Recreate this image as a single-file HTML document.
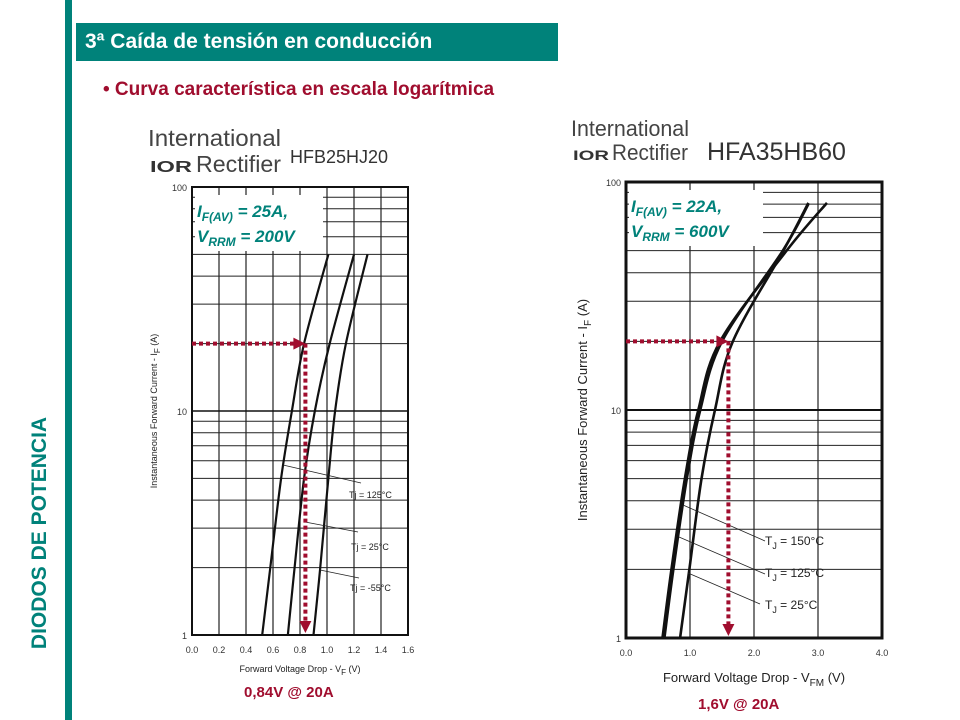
<!DOCTYPE html>
<html><head><meta charset="utf-8">
<style>
body{margin:0;width:960px;height:720px;background:#fff;overflow:hidden;position:relative;font-family:"Liberation Sans",sans-serif}
</style></head>
<body>
<div style="position:absolute;left:65px;top:0;width:7px;height:720px;background:#00827a"></div>
<div style="position:absolute;left:76px;top:23px;width:482px;height:38px;background:#00827a;color:#fff;font-weight:bold;font-size:21px;line-height:38px;padding-left:9px;box-sizing:border-box">3ª Caída de tensión en conducción</div>
<div style="position:absolute;left:103px;top:79px;color:#a00d2e;font-weight:bold;font-size:19px">• Curva característica en escala logarítmica</div>
<div style="position:absolute;left:40px;top:533px;transform:translate(-50%,-50%) rotate(-90deg);color:#00827a;font-weight:bold;font-size:21px;white-space:nowrap">DIODOS DE POTENCIA</div>
<div style="position:absolute;left:244px;top:684px;color:#a00d2e;font-weight:bold;font-size:15px">0,84V @ 20A</div>
<div style="position:absolute;left:698px;top:696px;color:#a00d2e;font-weight:bold;font-size:15px">1,6V @ 20A</div>

<svg width="960" height="720" style="position:absolute;left:0;top:0" font-family="Liberation Sans, sans-serif">
<g fill="#333">
<text x="148" y="146" font-size="23" textLength="133" lengthAdjust="spacingAndGlyphs" fill="#444">International</text>
<text x="150" y="172" font-size="16" font-weight="bold" textLength="42" lengthAdjust="spacingAndGlyphs">IOR</text>
<text x="196" y="172" font-size="23" fill="#444" textLength="85" lengthAdjust="spacingAndGlyphs">Rectifier</text>
<text x="290" y="163" font-size="18" fill="#333">HFB25HJ20</text>
</g>
<g fill="#333">
<text x="571" y="136" font-size="22" textLength="118" lengthAdjust="spacingAndGlyphs" fill="#444">International</text>
<text x="573" y="160" font-size="14" font-weight="bold" textLength="36" lengthAdjust="spacingAndGlyphs">IOR</text>
<text x="612" y="160" font-size="22" fill="#444" textLength="76" lengthAdjust="spacingAndGlyphs">Rectifier</text>
<text x="707" y="160" font-size="25">HFA35HB60</text>
</g>
<g id="left"></g>
<g id="right"></g>
</svg>

<script>
// Left chart data (HFB25HJ20)
const leftXTicks = ["0.0","0.2","0.4","0.6","0.8","1.0","1.2","1.4","1.6"];
const leftYTicks = [1,10,100];
const leftCurve125 = [[0.52,1],[0.58,2],[0.66,5],[0.74,10],[0.83,20],[1.01,50]];
const leftCurve25 = [[0.71,1],[0.76,2],[0.83,5],[0.91,10],[1.02,20],[1.2,50]];
const leftCurveM55 = [[0.90,1],[0.95,2],[1.01,5],[1.06,10],[1.14,20],[1.3,50]];
const leftMarker = [0.84,20];
// Right chart data (HFA35HB60)
const rightXTicks = ["0.0","1.0","2.0","3.0","4.0"];
const rightYTicks = [1,10,100];
const rightCurve150 = [[0.57,1],[0.71,2],[0.92,5],[1.13,10],[1.47,20],[2.51,50],[3.14,81]];
const rightCurve125 = [[0.60,1],[0.74,2],[0.95,5],[1.16,10],[1.5,20],[2.45,50],[2.85,80]];
const rightCurve25 = [[0.845,1],[0.99,2],[1.18,5],[1.39,10],[1.67,20],[2.46,50],[2.85,81]];
const rightMarker = [1.6,20];

const NS="http://www.w3.org/2000/svg";
function mk(parent,tag,attrs){const e=document.createElementNS(NS,tag);for(const k in attrs)e.setAttribute(k,attrs[k]);parent.appendChild(e);return e;}
function smooth(P){
  let d='M'+P[0][0]+','+P[0][1];
  for(let i=0;i<P.length-1;i++){
    const p0=P[Math.max(i-1,0)],p1=P[i],p2=P[i+1],p3=P[Math.min(i+2,P.length-1)];
    const c1=[p1[0]+(p2[0]-p0[0])/6,p1[1]+(p2[1]-p0[1])/6];
    const c2=[p2[0]-(p3[0]-p1[0])/6,p2[1]-(p3[1]-p1[1])/6];
    d+=' C'+c1[0]+','+c1[1]+' '+c2[0]+','+c2[1]+' '+p2[0]+','+p2[1];
  }
  return d;
}

function chart(g,o){
  const X=v=>o.x0+(v-o.xmin)/(o.xmax-o.xmin)*(o.x1-o.x0);
  const Y=v=>o.y1-Math.log10(v)/2*(o.y1-o.y0);
  const n=o.xTicks.length;
  o.xTicks.forEach((t,i)=>{
    const v=o.xmin+i*(o.xmax-o.xmin)/(n-1);
    const l=mk(g,'line',{x1:X(v),x2:X(v),y1:o.y0,y2:o.y1,stroke:'#222','stroke-width':1.2});
    
    
    const tx=mk(g,'text',{x:X(v),y:o.y1+o.tickDy,'font-size':o.tickFs,'text-anchor':'middle',fill:'#333'});
    tx.textContent=t;
    
    
  });
  for(let d=1;d<=10;d*=10){for(let m=2;m<=9;m++){
    const l=mk(g,'line',{x1:o.x0,x2:o.x1,y1:Y(d*m),y2:Y(d*m),stroke:'#222','stroke-width':1});
    
    
  }}
  o.yTicks.forEach(v=>{
    const l=mk(g,'line',{x1:o.x0,x2:o.x1,y1:Y(v),y2:Y(v),stroke:'#111','stroke-width':o.majW});
    
    
    const tx=mk(g,'text',{x:o.x0-5,y:Y(v)+4,'font-size':o.tickFs,'text-anchor':'end',fill:'#333'});
    tx.textContent=v;
    
    
  });
  const b=mk(g,'rect',{x:o.x0,y:o.y0,width:o.x1-o.x0,height:o.y1-o.y0,fill:'none',stroke:'#111','stroke-width':o.borderW});
  
  
  const bx=mk(g,'rect',{x:o.x0+3,y:o.y0+8,width:o.boxW,height:56,fill:'#fff'});
  
  
  const t1=mk(g,'text',{x:o.x0+5,y:o.y0+30,'font-size':17,'font-weight':'bold','font-style':'italic',fill:'#00827a'});
  t1.innerHTML='I<tspan font-size="12" dy="4">F(AV)</tspan><tspan dy="-4"> = '+o.ia+'A,</tspan>';
  
  
  const t2=mk(g,'text',{x:o.x0+5,y:o.y0+55,'font-size':17,'font-weight':'bold','font-style':'italic',fill:'#00827a'});
  t2.innerHTML='V<tspan font-size="12" dy="4">RRM</tspan><tspan dy="-4"> = '+o.vr+'V</tspan>';
  
  
  o.curves.forEach((c,i)=>{
    const p=mk(g,'path',{d:smooth(c.map(q=>[X(q[0]),Y(q[1])])),fill:'none',stroke:'#111','stroke-width':o.curveW});
    
    
  });
  o.labels.forEach(L=>{
    const ln=mk(g,'line',{x1:L[0],y1:L[1],x2:L[2],y2:L[3],stroke:'#222','stroke-width':0.8});
    
    
    const tx=mk(g,'text',{x:L[4],y:L[5],'font-size':o.labFs,fill:'#222'});
    tx.innerHTML=L[6];
    
    
  });
  const mx=X(o.marker[0]),my=Y(o.marker[1]);
  const h=mk(g,'line',{x1:o.x0,y1:my,x2:mx-8,y2:my,stroke:'#a00d2e','stroke-width':4,'stroke-dasharray':'4 3'});
  
  
  const ha=mk(g,'polygon',{points:`${mx},${my} ${mx-12},${my-6} ${mx-12},${my+6}`,fill:'#a00d2e'});
  
  
  const v=mk(g,'line',{x1:mx,y1:my,x2:mx,y2:o.y1-10,stroke:'#a00d2e','stroke-width':4,'stroke-dasharray':'4 3'});
  
  
  const va=mk(g,'polygon',{points:`${mx},${o.y1-2} ${mx-6},${o.y1-14} ${mx+6},${o.y1-14}`,fill:'#a00d2e'});
  
  
  const xt=mk(g,'text',{x:(o.x0+o.x1)/2,y:o.y1+o.xtDy,'font-size':o.axFs,'text-anchor':'middle',fill:'#222'});
  xt.innerHTML=o.xTitle;
  
  
  const yt=mk(g,'text',{x:0,y:0,'font-size':o.axFs,'text-anchor':'middle',fill:'#222',transform:`translate(${o.ytX},${(o.y0+o.y1)/2}) rotate(-90)`});
  yt.innerHTML=o.yTitle;
  
  
}

chart(document.getElementById('left'),{x0:192,x1:408,y0:187,y1:635,xmin:0,xmax:1.6,xTicks:leftXTicks,yTicks:leftYTicks,
 curves:[leftCurve125,leftCurve25,leftCurveM55],names:['tj125','tj25','tj-55'],marker:leftMarker,
 tickFs:9,tickDy:18,majW:1.5,borderW:2,curveW:2.2,boxW:128,ia:25,vr:200,labFs:9,axFs:9,xtDy:37,ytX:157,
 xTitle:'Forward Voltage Drop - V<tspan dy="3" font-size="8">F</tspan><tspan dy="-3"> (V)</tspan>',
 yTitle:'Instantaneous Forward Current - I<tspan dy="3" font-size="8">F</tspan><tspan dy="-3"> (A)</tspan>',
 labels:[[283,465,361,483,349,498,'Tj = 125°C'],[305,522,358,532,351,550,'Tj = 25°C'],[320,570,359,578,350,591,'Tj = -55°C']]});

chart(document.getElementById('right'),{x0:626,x1:882,y0:182,y1:638,xmin:0,xmax:4,xTicks:rightXTicks,yTicks:rightYTicks,
 curves:[rightCurve150,rightCurve125,rightCurve25],names:['tj150','tj125','tj25'],marker:rightMarker,
 tickFs:9,tickDy:18,majW:2,borderW:3,curveW:2.6,boxW:134,ia:22,vr:600,labFs:12,axFs:13,xtDy:44,ytX:587,
 xTitle:'Forward Voltage Drop - V<tspan dy="4" font-size="10">FM</tspan><tspan dy="-4">  (V)</tspan>',
 yTitle:'Instantaneous Forward Current - I<tspan dy="4" font-size="10">F</tspan><tspan dy="-4">  (A)</tspan>',
 labels:[[683,505,765,541,765,545,'T<tspan dy="4" font-size="9">J</tspan><tspan dy="-4"> = 150°C</tspan>'],[679,537,765,574,765,577,'T<tspan dy="4" font-size="9">J</tspan><tspan dy="-4"> = 125°C</tspan>'],[688,573,760,604,765,609,'T<tspan dy="4" font-size="9">J</tspan><tspan dy="-4"> =   25°C</tspan>']]});
</script>
</body></html>
